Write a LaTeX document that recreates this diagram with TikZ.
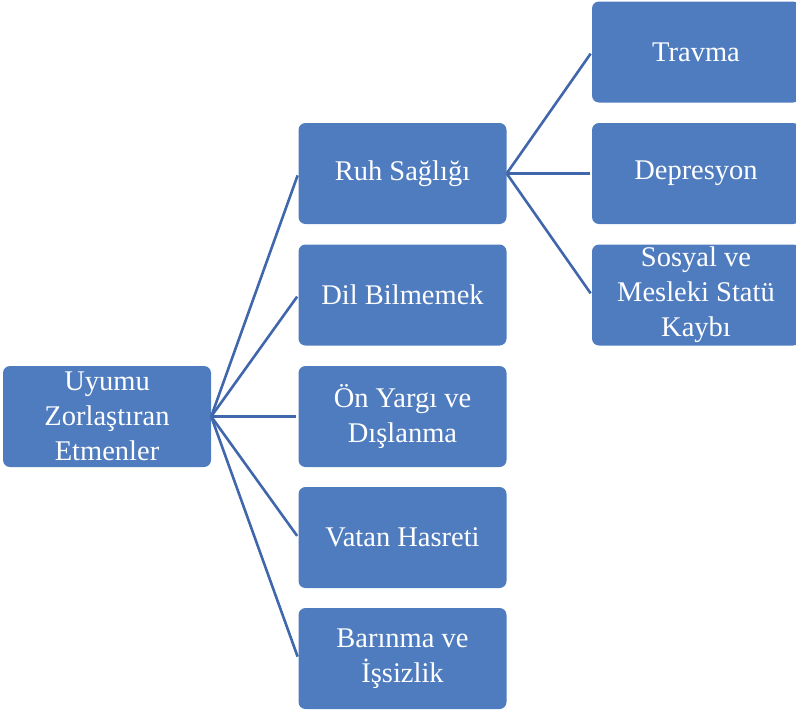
\documentclass[tikz,border=0pt]{standalone}
\usepackage{fontspec}
\setmainfont{Liberation Serif}
\definecolor{boxblue}{RGB}{79,124,191}
\definecolor{lineblue}{RGB}{64,102,172}

\begin{document}
\begin{tikzpicture}[x=1pt,y=-1pt]
\tikzstyle{every node}+=[inner sep=0pt]
\tikzstyle{box}=[fill=boxblue, rounded corners=7pt, minimum width=208pt, minimum height=101pt, text=white, align=center, font=\fontsize{28.5}{35}\selectfont]
\tikzstyle{link}=[lineblue, line width=2.6pt, shorten >=2pt]
\useasboundingbox (0,0) rectangle (796,713);
\node [box] (uyum) at (107,416.5) {Uyumu\\Zorlaştıran\\Etmenler};
\node [box] (ruh) at (402.5,173.5) {Ruh Sağlığı};
\node [box] (dil) at (402.5,295) {Dil Bilmemek};
\node [box] (onyargi) at (402.5,416.5) {Ön Yargı ve\\Dışlanma};
\node [box] (vatan) at (402.5,537.5) {Vatan Hasreti};
\node [box] (barinma) at (402.5,658.5) {Barınma ve\\İşsizlik};
\node [box] (travma) at (696,52) {Travma};
\node [box] (depresyon) at (696,173.5) {Depresyon};
\node [box] (statu) at (696,295) {Sosyal ve\\Mesleki Statü\\Kaybı};
\draw [link] (uyum.east) -- (ruh.west);
\draw [link] (uyum.east) -- (dil.west);
\draw [link] (uyum.east) -- (onyargi.west);
\draw [link] (uyum.east) -- (vatan.west);
\draw [link] (uyum.east) -- (barinma.west);
\draw [link] (ruh.east) -- (travma.west);
\draw [link] (ruh.east) -- (depresyon.west);
\draw [link] (ruh.east) -- (statu.west);
\end{tikzpicture}
\end{document}
